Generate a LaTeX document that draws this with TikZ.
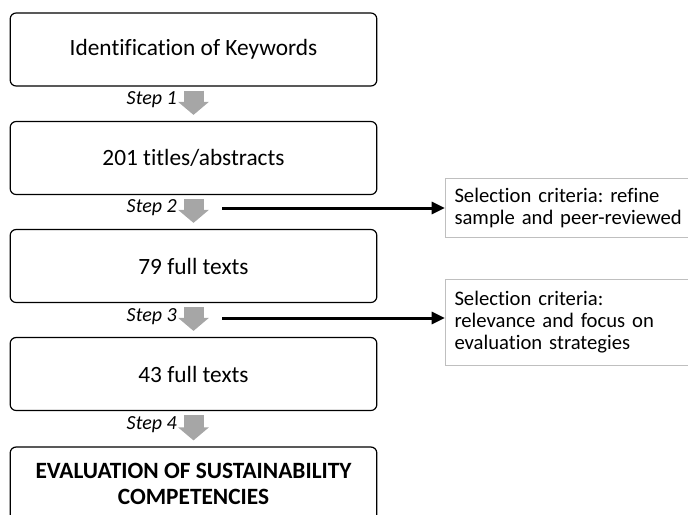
\documentclass[tikz,border=0pt]{standalone}
\usepackage{fontspec}
\setmainfont[Ligatures=NoCommon]{Carlito}
\frenchspacing
\usetikzlibrary{arrows.meta,positioning}

\definecolor{stepgray}{RGB}{166,166,166}
\definecolor{critgray}{RGB}{191,191,191}

\begin{document}
\begin{tikzpicture}[x=0.75pt,y=-0.75pt,
	stage/.style={draw, rounded corners=4.5pt, line width=0.9pt, minimum width=275pt, minimum height=54.75pt, align=center, font=\fontsize{17.5}{19.5}\selectfont},
	crit/.style={draw=critgray, line width=0.75pt, anchor=north west, text width=195pt, align=left, inner xsep=6.75pt, font=\fontsize{15.5}{16.5}\selectfont},
	steplabel/.style={anchor=east, inner sep=0pt, font=\fontsize{15}{18}\selectfont\itshape},
	stepflow/.style={stepgray, line width=15pt, -{Triangle[width=22.5pt,length=9.75pt]}},
	sideflow/.style={line width=2.25pt, -{Triangle[width=9pt,length=10pt]}}]
	\clip (0,0) rectangle (688,514);
	\node[stage] (keys) at (193.5,49.5) {Identification of Keywords};
	\node[stage] (titles) at (193.5,158) {201 titles/abstracts};
	\node[stage] (full79) at (193.5,266) {79 full texts};
	\node[stage] (full43) at (193.5,374) {43 full texts};
	\node[stage] (eval) at (193.5,483.5) {\bfseries EVALUATION OF SUSTAINABILITY\\\bfseries COMPETENCIES};

	\draw[stepflow] ([yshift=-3pt]keys.south) -- ([yshift=4.5pt]titles.north);
	\draw[stepflow] ([yshift=-3pt]titles.south) -- ([yshift=4.5pt]full79.north);
	\draw[stepflow] ([yshift=-3pt]full79.south) -- ([yshift=4.5pt]full43.north);
	\draw[stepflow] ([yshift=-3pt]full43.south) -- ([yshift=4.5pt]eval.north);

	\node[steplabel] (step1) at (177,100) {Step 1};
	\node[steplabel] (step2) at (177,208) {Step 2};
	\node[steplabel] (step3) at (177,317) {Step 3};
	\node[steplabel] (step4) at (177,425) {Step 4};

	\node[crit, minimum height=44.25pt] (refine) at (445,178) {Selection criteria: refine\\sample and peer-reviewed};
	\node[crit, minimum height=64.5pt] (focus) at (445,279) {Selection criteria:\\relevance and focus on\\evaluation strategies};

	\coordinate (from2) at (222,208);
	\coordinate (from3) at (222,318);
	\draw[sideflow] (from2) -- (from2 -| refine.west);
	\draw[sideflow] (from3) -- (from3 -| focus.west);
\end{tikzpicture}
\end{document}
